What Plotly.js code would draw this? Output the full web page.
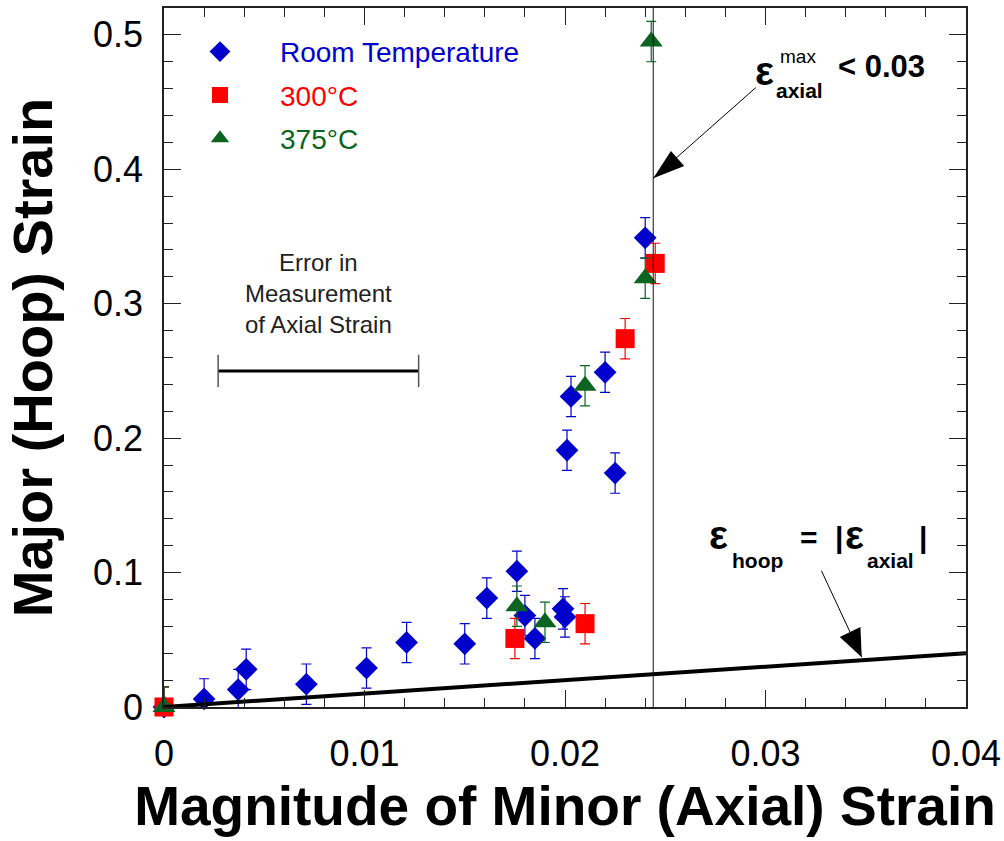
<!DOCTYPE html>
<html>
<head>
<meta charset="utf-8">
<script src="https://cdn.plot.ly/plotly-3.0.1.min.js"></script>
<style>
  html, body { margin: 0; padding: 0; background: #fff; }
  #chart { width: 1004px; height: 841px; }
</style>
</head>
<body>
<div id="chart"></div>
<script>
// Hoop vs. axial strain measurements at three test temperatures
const roomX = [0, 0.0020, 0.0037, 0.0041, 0.0071, 0.0101, 0.0121, 0.0150, 0.0161, 0.0176, 0.0180, 0.0185, 0.0199, 0.0200, 0.0201, 0.0203, 0.0220, 0.0225, 0.0240];
const roomY = [0, 0.006, 0.013, 0.028, 0.017, 0.029, 0.048, 0.047, 0.081, 0.101, 0.068, 0.051, 0.073, 0.067, 0.191, 0.231, 0.249, 0.174, 0.349];

const t300X = [0, 0.0175, 0.0210, 0.0230, 0.0245];
const t300Y = [0, 0.051, 0.062, 0.274, 0.330];

const t375X = [0, 0.0176, 0.0190, 0.0210, 0.0240, 0.0243];
const t375Y = [0, 0.075, 0.063, 0.239, 0.319, 0.495];

// Uncertainty of the hoop strain readings
const hoopError = 0.015;

// Reference line: hoop strain equal to |axial strain|
const parityX = [0, 0.04];
const parityY = [0, 0.04];

// Upper bound on axial strain
const axialLimit = 0.0244;

// Illustrative axial-strain measurement error bar
const axialErrCenter = 0.0077;
const axialErrHalf = 0.005;
const axialErrLevel = 0.25;

const FONT = 'Arial, "Liberation Sans", Helvetica, sans-serif';
const BLUE = '#0000cc';
const RED = '#ff0000';
const GREEN = '#0b6420';

function series(name, group, color, symbol, size, xs, ys) {
  return {
    type: 'scatter', mode: 'markers', name: name, legendgroup: group,
    x: xs, y: ys, cliponaxis: false,
    marker: { symbol: symbol, size: size, color: color, line: { width: 0 } },
    error_y: { type: 'constant', value: hoopError, color: color, thickness: 1.2, width: 5 }
  };
}

const traces = [
  series('<span style="color:' + BLUE + '">Room Temperature</span>', 'room', BLUE, 'diamond', 17.5, roomX, roomY),
  series('<span style="color:' + RED + '">300°C</span>', 't300', RED, 'square', 19, t300X, t300Y),
  series('<span style="color:' + GREEN + '">375°C</span>', 't375', GREEN, 'triangle-up', 20, t375X, t375Y),
  {
    type: 'scatter', mode: 'lines', x: parityX, y: parityY, showlegend: false,
    cliponaxis: false, line: { color: '#000', width: 4 }, hoverinfo: 'skip'
  }
];

const shapes = [
  // axial strain limit
  { type: 'line', xref: 'x', yref: 'paper', x0: axialLimit, x1: axialLimit, y0: 0, y1: 1,
    line: { color: '#111', width: 1 } },
  // measurement error bar
  { type: 'line', xref: 'x', yref: 'y', x0: axialErrCenter - axialErrHalf, x1: axialErrCenter + axialErrHalf,
    y0: axialErrLevel, y1: axialErrLevel, line: { color: '#000', width: 3 } },
  { type: 'line', xref: 'x', yref: 'y', x0: axialErrCenter - axialErrHalf, x1: axialErrCenter - axialErrHalf,
    y0: axialErrLevel - 0.012, y1: axialErrLevel + 0.012, line: { color: '#555', width: 1.5 } },
  { type: 'line', xref: 'x', yref: 'y', x0: axialErrCenter + axialErrHalf, x1: axialErrCenter + axialErrHalf,
    y0: axialErrLevel - 0.012, y1: axialErrLevel + 0.012, line: { color: '#555', width: 1.5 } },
  // arrowheads
  { type: 'path', xref: 'x', yref: 'y', xsizemode: 'pixel', ysizemode: 'pixel',
    xanchor: axialLimit, yanchor: 0.3933, path: 'M0,0 L17.7,27.3 L31,12.3 Z',
    fillcolor: '#000', line: { width: 0 } },
  { type: 'path', xref: 'x', yref: 'y', xsizemode: 'pixel', ysizemode: 'pixel',
    xanchor: 0.0348, yanchor: 0.037, path: 'M0,0 L-22,20.3 L-1.3,30.3 Z',
    fillcolor: '#000', line: { width: 0 } }
];

function label(text, x, y, size, opts) {
  return Object.assign({
    xref: 'x', yref: 'y', x: x, y: y, text: text, showarrow: false,
    xanchor: 'center', yanchor: 'middle',
    font: { family: FONT, size: size, color: '#000' }
  }, opts || {});
}

const annotations = [
  label('Error in<br>Measurement<br>of Axial Strain', 0.00773, 0.3078, 24, { font: { family: FONT, size: 24, color: '#222' } }),

  // ε_axial^max < 0.03
  label('<b>ε</b>', 0.02995, 0.4735, 40),
  label('max', 0.03160, 0.4840, 19),
  label('<b>axial</b>', 0.03170, 0.4590, 21),
  label('<b>&lt; 0.03</b>', 0.03581, 0.4765, 31),
  { xref: 'x', yref: 'y', x: axialLimit, y: 0.3933, ax: 104, ay: -92, text: '',
    showarrow: true, arrowhead: 0, arrowwidth: 1, arrowcolor: '#000', standoff: 0 },

  // ε_hoop = |ε_axial|
  label('<b>ε</b>', 0.02765, 0.1276, 40),
  label('<b>hoop</b>', 0.02960, 0.1088, 21),
  label('<b>=</b>', 0.03215, 0.1264, 30),
  label('<b>|</b>', 0.03368, 0.1264, 30),
  label('<b>ε</b>', 0.03442, 0.1276, 40),
  label('<b>axial</b>', 0.03625, 0.1088, 21),
  label('<b>|</b>', 0.03788, 0.1264, 30),
  { xref: 'x', yref: 'y', x: 0.0348, y: 0.037, ax: -41, ay: -88, text: '',
    showarrow: true, arrowhead: 0, arrowwidth: 1, arrowcolor: '#000', standoff: 0 }
];

const axisCommon = {
  showline: true, linecolor: '#222', linewidth: 1.5, mirror: 'ticks',
  ticks: 'inside', tickcolor: '#222', tickwidth: 1.2, ticklen: 17,
  showgrid: false, zeroline: false,
  tickfont: { family: FONT, size: 36, color: '#000' }
};

const layout = {
  width: 1004, height: 841,
  margin: { l: 164, r: 38, t: 8, b: 134 },
  paper_bgcolor: '#fff', plot_bgcolor: '#fff',
  font: { family: FONT },
  showlegend: true,
  legend: {
    x: -0.005, y: 0.973, xanchor: 'left', yanchor: 'top',
    bgcolor: 'rgba(0,0,0,0)', borderwidth: 0, itemwidth: 110,
    tracegroupgap: 4,
    font: { family: FONT, size: 28 }
  },
  xaxis: Object.assign({}, axisCommon, {
    range: [0, 0.04], dtick: 0.01, tick0: 0,
    ticklabelstandoff: 14,
    minor: { dtick: 0.002, ticks: 'inside', ticklen: 9, tickcolor: '#222', tickwidth: 1.2 },
    title: { text: '<b>Magnitude of Minor (Axial) Strain</b>', standoff: 14,
      font: { family: FONT, size: 55, color: '#000' } }
  }),
  yaxis: Object.assign({}, axisCommon, {
    range: [0, 0.52], dtick: 0.1, tick0: 0,
    ticklabelstandoff: 12,
    minor: { dtick: 0.02, ticks: 'inside', ticklen: 9, tickcolor: '#222', tickwidth: 1.2 },
    title: { text: '<b>Major (Hoop) Strain</b>', standoff: 22,
      font: { family: FONT, size: 56, color: '#000' } }
  }),
  shapes: shapes,
  annotations: annotations
};

Plotly.newPlot('chart', traces, layout, { displayModeBar: false, responsive: false });
</script>
</body>
</html>
